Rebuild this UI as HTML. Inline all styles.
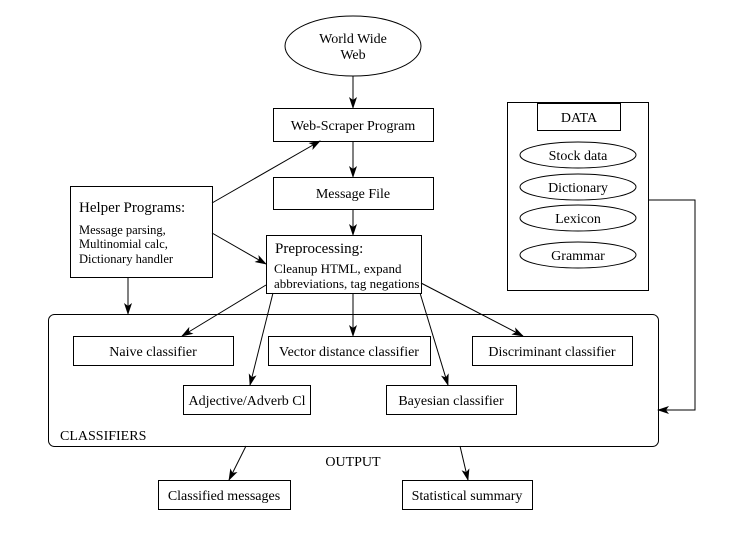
<!DOCTYPE html>
<html><head><style>
body{margin:0;background:#fff}
svg text{font-family:"Liberation Serif",serif;font-size:14px;fill:#000}
</style></head><body>
<svg width="756" height="532" viewBox="0 0 756 532" xmlns="http://www.w3.org/2000/svg">
<defs><marker id="a" markerWidth="12" markerHeight="8" refX="11" refY="4" orient="auto" markerUnits="userSpaceOnUse"><path d="M0,0 L12,4 L0,8 L3,4 Z" fill="#000"/></marker></defs>
<g fill="none" stroke="#000" stroke-width="1">
<ellipse cx="353" cy="46" rx="68" ry="30"/>
<rect x="273.5" y="108.5" width="160" height="33"/>
<rect x="273.5" y="177.5" width="160" height="32"/>
<rect x="266.5" y="235.5" width="155" height="58"/>
<rect x="70.5" y="186.5" width="142" height="91"/>
<rect x="48.5" y="314.5" width="610" height="132" rx="6"/>
<rect x="73.5" y="336.5" width="160" height="29"/>
<rect x="268.5" y="336.5" width="162" height="29"/>
<rect x="472.5" y="336.5" width="160" height="29"/>
<rect x="183.5" y="385.5" width="127" height="29"/>
<rect x="386.5" y="385.5" width="130" height="29"/>
<rect x="158.5" y="480.5" width="132" height="29"/>
<rect x="402.5" y="480.5" width="130" height="29"/>
<rect x="507.5" y="102.5" width="141" height="188"/>
<rect x="537.5" y="103.5" width="83" height="27"/>
<ellipse cx="578" cy="155" rx="58" ry="13"/>
<ellipse cx="578" cy="187" rx="58" ry="13"/>
<ellipse cx="578" cy="218" rx="58" ry="13"/>
<ellipse cx="578" cy="255" rx="58" ry="13"/>
<line x1="353" y1="76" x2="353" y2="108" marker-end="url(#a)"/>
<line x1="353" y1="141" x2="353" y2="177" marker-end="url(#a)"/>
<line x1="353" y1="209" x2="353" y2="235" marker-end="url(#a)"/>
<line x1="212" y1="203" x2="320" y2="141" marker-end="url(#a)"/>
<line x1="212" y1="233" x2="266" y2="264" marker-end="url(#a)"/>
<line x1="128" y1="277" x2="128" y2="314" marker-end="url(#a)"/>
<line x1="266" y1="285" x2="182" y2="336" marker-end="url(#a)"/>
<line x1="273" y1="293" x2="250" y2="385" marker-end="url(#a)"/>
<line x1="353" y1="293" x2="353" y2="336" marker-end="url(#a)"/>
<line x1="420" y1="293" x2="448" y2="385" marker-end="url(#a)"/>
<line x1="421" y1="283" x2="523" y2="336" marker-end="url(#a)"/>
<line x1="246" y1="446" x2="229" y2="480" marker-end="url(#a)"/>
<line x1="460" y1="446" x2="468" y2="480" marker-end="url(#a)"/>
<polyline points="648,200 695,200 695,410 658,410" marker-end="url(#a)"/>
</g>
<g text-anchor="middle">
<text x="353" y="43">World Wide</text>
<text x="353" y="59">Web</text>
<text x="353" y="130">Web-Scraper Program</text>
<text x="353" y="198">Message File</text>
<text x="153" y="356">Naive classifier</text>
<text x="349" y="356">Vector distance classifier</text>
<text x="552" y="356">Discriminant classifier</text>
<text x="247" y="405">Adjective/Adverb Cl</text>
<text x="451" y="405">Bayesian classifier</text>
<text x="353" y="466">OUTPUT</text>
<text x="224" y="500">Classified messages</text>
<text x="467" y="500">Statistical summary</text>
<text x="579" y="122">DATA</text>
<text x="578" y="160">Stock data</text>
<text x="578" y="192">Dictionary</text>
<text x="578" y="223">Lexicon</text>
<text x="578" y="260">Grammar</text>
</g>
<text x="275" y="253" style="font-size:15px">Preprocessing:</text>
<text x="274" y="273" style="font-size:13px">Cleanup HTML, expand</text>
<text x="274" y="288" style="font-size:13px">abbreviations, tag negations</text>
<text x="79" y="212" style="font-size:15px">Helper Programs:</text>
<text x="79" y="234" style="font-size:12.5px">Message parsing,</text>
<text x="79" y="248" style="font-size:12.5px">Multinomial calc,</text>
<text x="79" y="263" style="font-size:12.5px">Dictionary handler</text>
<text x="60" y="440">CLASSIFIERS</text>
</svg>
</body></html>
